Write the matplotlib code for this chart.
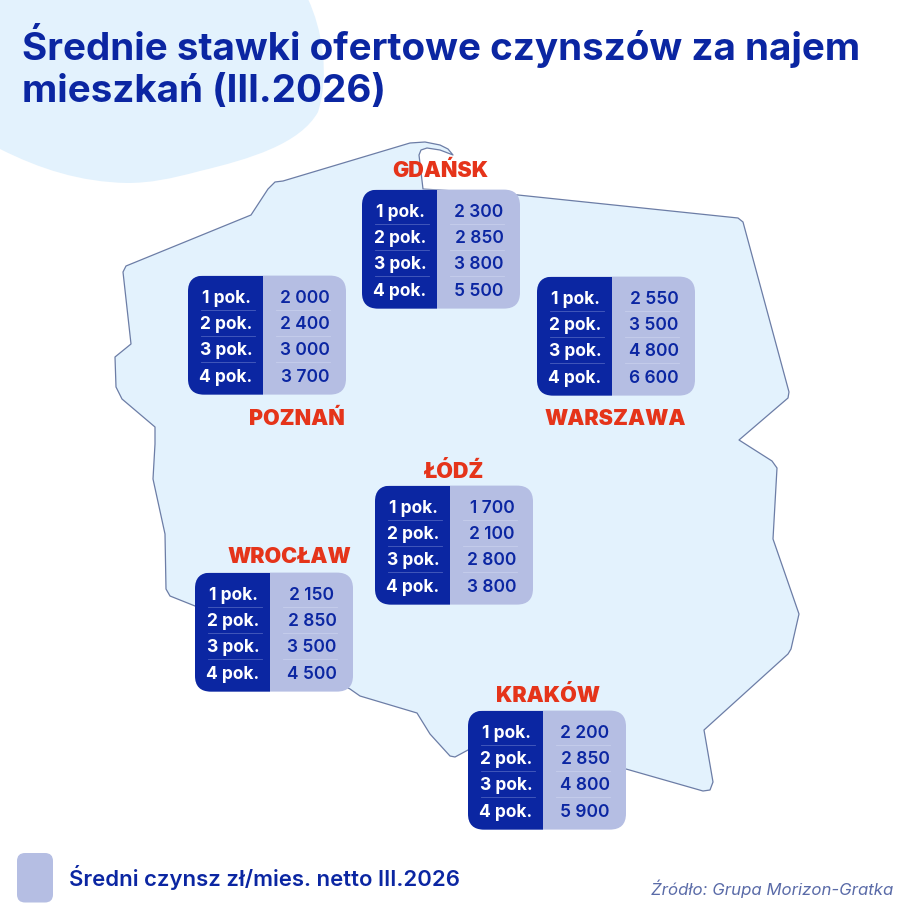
import matplotlib
matplotlib.use("Agg")
import matplotlib.pyplot as plt
from matplotlib.patches import FancyBboxPatch, PathPatch, Polygon, Rectangle
from matplotlib.path import Path

# dane
cities = ["GDAŃSK", "POZNAŃ", "WARSZAWA", "ŁÓDŹ", "WROCŁAW", "KRAKÓW"]
rooms = ["1 pok.", "2 pok.", "3 pok.", "4 pok."]
gdansk = ["2 300", "2 850", "3 800", "5 500"]
poznan = ["2 000", "2 400", "3 000", "3 700"]
warszawa = ["2 550", "3 500", "4 800", "6 600"]
lodz = ["1 700", "2 100", "2 800", "3 800"]
wroclaw = ["2 150", "2 850", "3 500", "4 500"]
krakow = ["2 200", "2 850", "4 800", "5 900"]
city_rents = [gdansk, poznan, warszawa, lodz, wroclaw, krakow]

title = "Średnie stawki ofertowe czynszów za najem\nmieszkań (III.2026)"
legend_text = "Średni czynsz zł/mies. netto III.2026"
source_text = "Źródło: Grupa Morizon-Gratka"

# kolory
DARK = "#0B26A2"
LIGHT = "#B5BEE3"
PALE = "#E3F2FD"
RED = "#E5341A"
EDGE = "#6C7DA6"

# pozycje tabelek: x, y (lewy gorny rog), potem etykieta miasta
table_xy = [(362, 190.6), (188, 276.6), (537, 277.6), (375, 486.6), (195, 573.6), (468, 711.6)]
label_xy = [(440, 171), (297, 419), (615, 419), (454, 472), (289, 557), (548, 696)]

# kontur mapy w pikselach
outline = [
    (410, 144), (425, 143), (440, 146), (448, 150), (453, 156), (440, 151), (427, 149), (421, 151),
    (419, 156), (423, 190), (518, 196), (738, 219), (743, 223), (789, 393), (788, 399), (739, 441),
    (772, 462), (777, 469), (773, 540), (799, 615), (791, 650), (788, 655), (704, 731), (713, 783),
    (710, 791), (703, 792), (626, 770), (540, 760), (468, 751), (455, 758), (450, 757), (430, 735),
    (417, 714), (360, 697), (350, 690), (195, 607), (170, 597), (166, 590), (165, 535),
    (153, 480), (155, 445), (155, 428), (122, 400), (116, 388), (115, 358), (131, 345),
    (123, 273), (126, 267), (251, 216), (268, 190), (275, 183), (283, 182),
]

fig = plt.figure(figsize=(9.2, 9.2), dpi=100)
ax = fig.add_axes([0, 0, 1, 1])
ax.set_xlim(0, 920)
ax.set_ylim(920, 0)
ax.axis("off")

# plama w rogu
blob = Path(
    [(0, 0), (308, 0), (322, 30), (330, 75), (318, 113), (300, 145), (250, 160), (200, 172),
     (170, 180), (150, 184), (127, 184), (80, 183), (40, 170), (0, 150), (0, 0)],
    [Path.MOVETO, Path.LINETO] + [Path.CURVE4] * 12 + [Path.CLOSEPOLY],
)
ax.add_patch(PathPatch(blob, fc=PALE, ec="none", zorder=1))

ax.add_patch(Polygon(outline, closed=True, fc=PALE, ec=EDGE, lw=0.9, joinstyle="round", zorder=2))

ax.text(22, 46, title.split("\n")[0], fontsize=27.8, fontweight="bold", family="Inter", color=DARK, va="center", zorder=5)
ax.text(22, 92, title.split("\n")[1], fontsize=27.8, fontweight="bold", family="Inter", color=DARK, va="center", zorder=5)

W, H, SPLIT, R = 158, 119, 75, 16
for city, rents, (x, y), (lx, ly) in zip(cities, city_rents, table_xy, label_xy):
    # tlo tabelki i ciemna kolumna przycieta do zaokraglen
    bg = FancyBboxPatch((x + R, y + R), W - 2 * R, H - 2 * R, boxstyle=f"round,pad={R},rounding_size={R}",
                        fc=LIGHT, ec="none", zorder=3)
    ax.add_patch(bg)
    left = FancyBboxPatch((x + R, y + R), W - 2 * R, H - 2 * R, boxstyle=f"round,pad={R},rounding_size={R}",
                          fc=DARK, ec="none", zorder=4)
    ax.add_patch(left)
    left.set_clip_path(Rectangle((x, y), SPLIT, H, transform=ax.transData))
    for i, (room, rent) in enumerate(zip(rooms, rents)):
        ty = y + 22 + i * 26.2
        ax.text(x + 38, ty, room, fontsize=12.5, fontweight="bold", family="Inter", color="white",
                ha="center", va="center", zorder=6)
        ax.text(x + 117, ty, rent, fontsize=12.5, fontweight="semibold", family="Inter", color=DARK,
                ha="center", va="center", zorder=6)
        if i < 3:
            ax.plot([x + 13, x + 67], [ty + 12, ty + 12], color="#4A5FBE", lw=0.6, zorder=6)
            ax.plot([x + 88, x + 142], [ty + 12, ty + 12], color="#C6CEEC", lw=0.6, zorder=6)
    ax.text(lx, ly, city, fontsize=15.5, fontweight="black", family="Inter", color=RED,
            ha="center", va="center", zorder=6)

# legenda i zrodlo
ax.add_patch(FancyBboxPatch((25, 862), 20, 33.5, boxstyle="round,pad=8,rounding_size=8", fc=LIGHT, ec="none", zorder=3))
ax.text(69, 878, legend_text, fontsize=15.9, fontweight="semibold", family="Inter", color=DARK, va="center", zorder=5)
ax.text(893, 889, source_text, fontsize=12.1, style="italic", family="Inter", color="#5A6BA8", ha="right", va="center", zorder=5)

fig.savefig("out.png", dpi=100)
